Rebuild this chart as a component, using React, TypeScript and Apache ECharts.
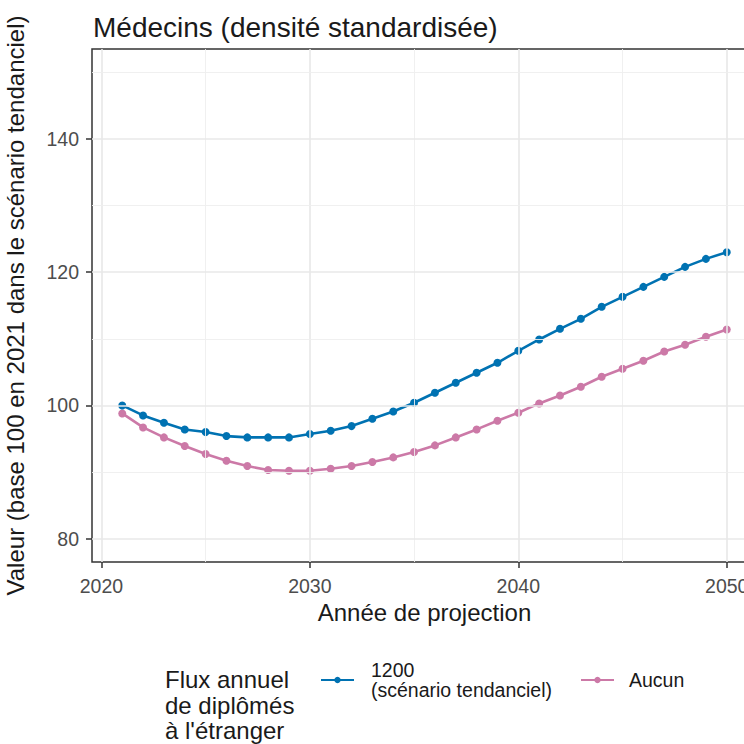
import React, { useEffect, useRef } from "react";
import * as echarts from "echarts";

const years = [2021, 2022, 2023, 2024, 2025, 2026, 2027, 2028, 2029, 2030, 2031, 2032, 2033, 2034, 2035, 2036, 2037, 2038, 2039, 2040, 2041, 2042, 2043, 2044, 2045, 2046, 2047, 2048, 2049, 2050];
const flux1200 = [100.0, 98.5, 97.4, 96.4, 96.0, 95.4, 95.2, 95.2, 95.2, 95.7, 96.2, 96.9, 98.0, 99.1, 100.4, 101.9, 103.4, 104.9, 106.4, 108.2, 109.9, 111.5, 113.0, 114.8, 116.3, 117.8, 119.3, 120.8, 122.0, 123.0];
const fluxAucun = [98.8, 96.7, 95.2, 93.9, 92.7, 91.7, 90.9, 90.3, 90.2, 90.2, 90.5, 90.9, 91.5, 92.2, 93.0, 94.0, 95.2, 96.4, 97.7, 98.9, 100.3, 101.5, 102.8, 104.3, 105.5, 106.7, 108.1, 109.1, 110.3, 111.4];
const xTicks = [2020, 2030, 2040, 2050];
const xMinorGrid = [2025, 2035, 2045];
const yTicks = [80, 100, 120, 140];
const yMinorGrid = [90, 110, 130, 150];

const BLUE = "#0072B2";
const PINK = "#CC79A7";
const FONT = "'Liberation Sans', Arial, sans-serif";

export default function App() {
  const ref = useRef<HTMLDivElement>(null);
  useEffect(() => {
    if (!ref.current) return;
    const chart = echarts.init(ref.current, null, { renderer: "svg" });
    const major = { color: "#e8e8e8", width: 1.6, type: "solid" };
    const minor = { color: "#eeeeee", width: 0.9, type: "solid" };
    const gridLines = [
      ...xTicks.map((v) => ({ xAxis: v, lineStyle: major })),
      ...xMinorGrid.map((v) => ({ xAxis: v, lineStyle: minor })),
      ...yTicks.map((v) => ({ yAxis: v, lineStyle: major })),
      ...yMinorGrid.map((v) => ({ yAxis: v, lineStyle: minor })),
    ];
    chart.setOption({
      animation: false,
      textStyle: { fontFamily: FONT },
      title: {
        text: "Médecins (densité standardisée)",
        left: 88,
        top: 8,
        textStyle: { fontFamily: FONT, fontSize: 28, fontWeight: "normal", color: "#1a1a1a" },
      },
      grid: {
        left: 92,
        top: 49,
        right: -13,
        bottom: 182,
        outerBoundsMode: "none",
        containLabel: false,
        show: true,
        borderColor: "#333333",
        borderWidth: 1.5,
        backgroundColor: "transparent",
      },
      xAxis: {
        type: "value",
        min: 2019.55,
        max: 2051.45,
        name: "Année de projection",
        nameLocation: "middle",
        nameGap: 38,
        nameTextStyle: { fontFamily: FONT, fontSize: 24, color: "#1a1a1a" },
        axisLine: { show: false },
        splitLine: { show: false },
        axisTick: { show: true, customValues: xTicks, length: 6, lineStyle: { color: "#333333", width: 1.5 } },
        axisLabel: {
          customValues: xTicks,
          fontSize: 19.5,
          color: "#4d4d4d",
          margin: 14,
          fontFamily: FONT,
          formatter: (v: number) => String(v),
        },
      },
      yAxis: {
        type: "value",
        min: 76.5,
        max: 153.5,
        name: "Valeur (base 100 en 2021 dans le scénario tendanciel)",
        nameLocation: "middle",
        nameGap: 65,
        nameTextStyle: { fontFamily: FONT, fontSize: 24, color: "#1a1a1a" },
        axisLine: { show: false },
        splitLine: { show: false },
        axisTick: { show: true, customValues: yTicks, length: 6, lineStyle: { color: "#333333", width: 1.5 } },
        axisLabel: {
          customValues: yTicks,
          fontSize: 19.5,
          color: "#4d4d4d",
          margin: 13,
          fontFamily: FONT,
          formatter: (v: number) => String(v),
        },
      },
      legend: [
        {
          data: ["1200"],
          left: 320,
          top: 660,
          padding: 0,
          itemWidth: 33,
          itemHeight: 8,
          formatter: () => "1200\n(scénario tendanciel)",
          textStyle: { fontFamily: FONT, fontSize: 19.5, lineHeight: 20, color: "#1a1a1a", padding: [0, 0, 0, 12] },
        },
        {
          data: ["Aucun"],
          left: 580,
          top: 670,
          padding: 0,
          itemWidth: 33,
          itemHeight: 8,
          textStyle: { fontFamily: FONT, fontSize: 19.5, lineHeight: 20, color: "#1a1a1a", padding: [0, 0, 0, 10] },
        },
      ],
      graphic: [
        {
          type: "text",
          left: 165,
          top: 667,
          style: {
            text: "Flux annuel\nde diplômés\nà l'étranger",
            fontFamily: FONT,
            fontSize: 24,
            lineHeight: 25.5,
            fill: "#1a1a1a",
          },
        },
      ],
      series: [
        {
          name: "grid",
          type: "line",
          data: [],
          z: 0,
          silent: true,
          markLine: {
            silent: true,
            symbol: "none",
            label: { show: false },
            animation: false,
            data: gridLines,
          },
        },
        {
          name: "1200",
          type: "line",
          data: years.map((y, i) => [y, flux1200[i]]),
          color: BLUE,
          symbol: "circle",
          symbolSize: 8,
          lineStyle: { width: 2.6 },
          z: 3,
        },
        {
          name: "Aucun",
          type: "line",
          data: years.map((y, i) => [y, fluxAucun[i]]),
          color: PINK,
          symbol: "circle",
          symbolSize: 8,
          lineStyle: { width: 2.6 },
          z: 2,
        },
      ],
    });
    return () => chart.dispose();
  }, []);
  return <div ref={ref} style={{ position: "fixed", left: 0, top: 0, width: 744, height: 744, background: "#fff" }} />;
}
